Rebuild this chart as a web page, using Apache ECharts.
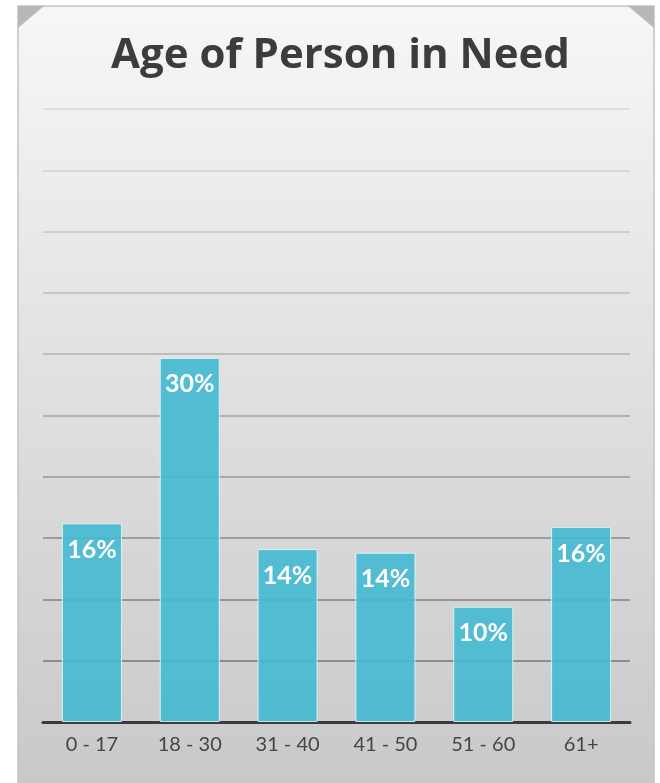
<!DOCTYPE html>
<html>
<head>
<meta charset="utf-8">
<script src="https://cdn.jsdelivr.net/npm/echarts@6/dist/echarts.min.js"></script>
<style>
  html, body { margin: 0; padding: 0; background: #fff; }
  #chart { width: 660px; height: 783px; }
</style>
</head>
<body>
<div id="chart"></div>
<script>
// data
const ageGroups = ['0 - 17', '18 - 30', '31 - 40', '41 - 50', '51 - 60', '61+']
const sharePct = [16.2, 29.7, 14.1, 13.8, 9.4, 15.9]
const shareLabels = ['16%', '30%', '14%', '14%', '10%', '16%']

// split lines fade out toward the top
const gridColors = ['#404040', '#8c8c8c', '#959595', '#9e9e9e', '#a8a8a8', '#b2b2b2',
  '#bdbdbd', '#c7c7c7', '#d0d0d0', '#d8d8d8', '#dfdfdf']

const chart = echarts.init(document.getElementById('chart'))

const option = {
  backgroundColor: '#ffffff',
  graphic: [
    {
      type: 'rect',
      z: -10,
      shape: { x: 18, y: 6, width: 636, height: 790 },
      style: {
        fill: {
          type: 'linear', x: 0, y: 0, x2: 0, y2: 1,
          colorStops: [
            { offset: 0, color: '#f7f7f7' },
            { offset: 0.5, color: '#dfdfdf' },
            { offset: 1, color: '#c8c8c8' }
          ]
        },
        stroke: '#c4c4c4',
        lineWidth: 1.5
      }
    },
    {
      type: 'polygon',
      z: -9,
      shape: { points: [[18, 6], [44, 6], [18, 28]] },
      style: { fill: '#b8b8b8' }
    },
    {
      type: 'polygon',
      z: -9,
      shape: { points: [[654, 6], [628, 6], [654, 28]] },
      style: { fill: '#b8b8b8' }
    }
  ],
  title: {
    text: 'Age of Person in Need',
    left: 106,
    top: 30,
    textStyle: {
      color: '#3c3c3c',
      fontSize: 42,
      fontWeight: 'bold',
      fontFamily: 'Open Sans'
    }
  },
  grid: {
    left: 43,
    right: 30,
    top: 109,
    bottom: 61
  },
  xAxis: {
    type: 'category',
    data: ageGroups,
    axisLine: { lineStyle: { color: '#3c3c3c', width: 3 } },
    axisTick: { show: false },
    axisLabel: {
      color: '#454545',
      fontSize: 20,
      fontFamily: 'Lato',
      margin: 13
    }
  },
  yAxis: {
    type: 'value',
    min: 0,
    max: 50,
    interval: 5,
    axisLabel: { show: false },
    axisLine: { show: false },
    axisTick: { show: false },
    splitLine: { lineStyle: { color: gridColors, width: 2 } }
  },
  series: [
    {
      type: 'bar',
      data: sharePct,
      barWidth: 60,
      itemStyle: {
        color: 'rgba(67,185,210,0.9)',
        borderColor: 'rgba(225,248,252,0.85)',
        borderWidth: 1
      },
      label: {
        show: true,
        position: 'insideTop',
        distance: 14,
        color: '#ffffff',
        fontSize: 25,
        fontWeight: 'bold',
        fontFamily: 'Lato',
        formatter: p => shareLabels[p.dataIndex]
      }
    }
  ]
}

chart.setOption(option)
</script>
</body>
</html>
